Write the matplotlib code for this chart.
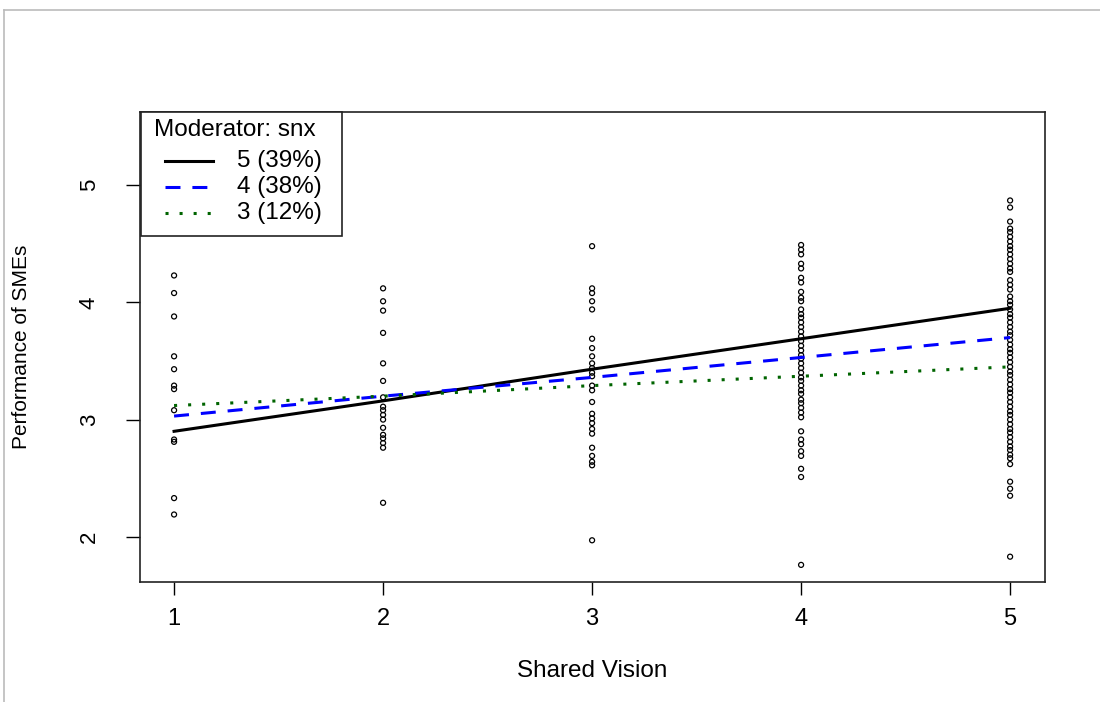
import matplotlib
matplotlib.use("Agg")
import matplotlib.pyplot as plt
from matplotlib.lines import Line2D
from matplotlib.patches import Rectangle

plt.rcParams['font.family'] = ['Liberation Sans', 'DejaVu Sans']

# observed points: shared vision level -> performance values
x1 = [1] * 12
y1 = [4.23, 4.08, 3.88, 3.54, 3.43, 3.29, 3.26, 3.08, 2.83, 2.81, 2.33, 2.19]
x2 = [2] * 17
y2 = [4.12, 4.01, 3.93, 3.74, 3.48, 3.33, 3.19, 3.11, 3.08, 3.04, 3.00,
      2.93, 2.87, 2.84, 2.80, 2.76, 2.29]
x3 = [3] * 25
y3 = [4.48, 4.12, 4.08, 4.01, 3.94, 3.69, 3.61, 3.54, 3.48, 3.44, 3.40,
      3.37, 3.29, 3.25, 3.15, 3.05, 3.01, 2.97, 2.92, 2.88, 2.76, 2.69,
      2.64, 2.61, 1.97]
y4 = [4.49, 4.45, 4.41, 4.33, 4.29, 4.21, 4.17, 4.09, 4.04, 4.01, 3.94,
      3.90, 3.87, 3.83, 3.79, 3.75, 3.71, 3.67, 3.63, 3.59, 3.55, 3.52,
      3.48, 3.44, 3.40, 3.36, 3.33, 3.29, 3.25, 3.22, 3.17, 3.14, 3.10,
      3.06, 3.02, 2.90, 2.83, 2.79, 2.73, 2.69, 2.58, 2.51, 1.76]
x4 = [4] * len(y4)
y5 = [4.87, 4.81, 4.69, 4.63, 4.60, 4.56, 4.52, 4.48, 4.45, 4.41, 4.37,
      4.33, 4.29, 4.26, 4.19, 4.15, 4.11, 4.05, 4.01, 3.98, 3.94, 3.90,
      3.87, 3.83, 3.79, 3.75, 3.72, 3.68, 3.64, 3.60, 3.57, 3.53, 3.49,
      3.45, 3.41, 3.38, 3.34, 3.30, 3.26, 3.23, 3.19, 3.15, 3.11, 3.07,
      3.04, 3.00, 2.96, 2.92, 2.89, 2.85, 2.81, 2.77, 2.74, 2.70, 2.67,
      2.62, 2.47, 2.41, 2.35, 1.83]
x5 = [5] * len(y5)

# fitted lines per moderator level
line_x = [1, 2, 3, 4, 5]
fit_5 = [2.90, 3.16, 3.43, 3.69, 3.95]
fit_4 = [3.03, 3.20, 3.36, 3.53, 3.70]
fit_3 = [3.12, 3.20, 3.29, 3.37, 3.45]
labels = ["5 (39%)", "4 (38%)", "3 (12%)"]

W, H = 1100, 702
fig = plt.figure(figsize=(11, 7.02), dpi=100)
ax = fig.add_axes([140 / W, 1 - 582 / H, 905 / W, 470 / H])

xs = x1 + x2 + x3 + x4 + x5
ys = y1 + y2 + y3 + y4 + y5
ax.scatter(xs, ys, s=13, facecolors='none', edgecolors='black', linewidths=0.9, zorder=2)

styles = [dict(color='black', lw=2.2),
          dict(color='#0000ff', lw=2.2, dashes=(4.9, 3.9)),
          dict(color='#006400', lw=2.2, dashes=(1.0, 3.6))]
for fit, st in zip([fit_5, fit_4, fit_3], styles):
    ax.plot(line_x, fit, zorder=3, **st)

ax.set_xlim(0.837, 5.167)
ax.set_ylim(1.614, 5.625)
ax.set_xticks([1, 2, 3, 4, 5])
ax.set_yticks([2, 3, 4, 5])
ax.tick_params(axis='x', length=9, width=1, labelsize=17, pad=10)
ax.tick_params(axis='y', length=10, width=1, labelsize=16, pad=19, labelrotation=90)
for lab in ax.get_yticklabels():
    lab.set_va('center')
for sp in ax.spines.values():
    sp.set_linewidth(1.2)
    sp.set_color('#222222')

ax.set_xlabel("Shared Vision", fontsize=17.5)
ax.xaxis.set_label_coords(0.5, -0.165)
ax.set_ylabel("Performance of SMEs", fontsize=15)
ax.yaxis.set_label_coords(-0.12, 0.5)


def fx(px):
    return px / W


def fy(py):
    return 1 - py / H


# legend box drawn in figure pixels
fig.add_artist(Rectangle((fx(141), fy(236)), fx(342) - fx(141), fy(112) - fy(236),
                         transform=fig.transFigure, facecolor='white',
                         edgecolor='#222222', lw=1.2, zorder=5))
fig.text(fx(154), fy(130), "Moderator: snx", fontsize=17.5, va='center', ha='left', zorder=6)
for i, (lab, st) in enumerate(zip(labels, styles)):
    yy = fy(161 + 26 * i)
    fig.add_artist(Line2D([fx(165), fx(213)], [yy, yy], transform=fig.transFigure, zorder=6, **st))
    fig.text(fx(237), yy, lab, fontsize=17.5, va='center', ha='left', zorder=6)

# thin frame of the screenshot
fig.add_artist(Line2D([fx(4), fx(4)], [0, fy(10)], color='#bbbbbb', lw=1.2))
fig.add_artist(Line2D([fx(4), 1], [fy(10), fy(10)], color='#bbbbbb', lw=1.2))

fig.savefig("out.png", dpi=100)
